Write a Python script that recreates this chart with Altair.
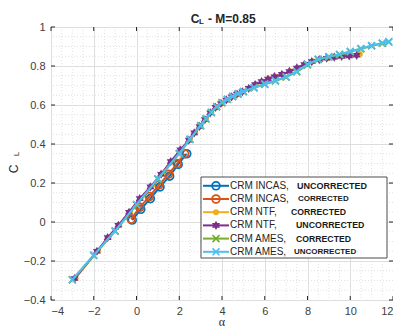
import altair as alt
import pandas as pd

# ---------------- data ----------------
incas_unc_alpha = [-0.2, 0.2, 0.65, 1.1, 1.55, 1.95, 2.35]
incas_unc_cl = [0.01, 0.065, 0.12, 0.18, 0.235, 0.295, 0.35]

incas_cor_alpha = [-0.25, 0.15, 0.6, 1.05, 1.5, 1.9, 2.25]
incas_cor_cl = [0.015, 0.075, 0.13, 0.19, 0.245, 0.3, 0.35]

ntf_cor_alpha = [-2.85, -1.8, -1.3, -0.8, -0.3, 0.2, 0.7, 1.2, 1.65, 2.1, 2.5, 2.75, 3.0, 3.25,
                 3.5, 3.75, 4.0, 4.25, 4.5, 4.75, 5.0, 5.3, 5.6, 5.9, 6.2, 6.5, 6.85, 7.2, 7.55,
                 7.9, 8.25, 8.6, 8.95, 9.3, 9.65, 10.0, 10.45]
ntf_cor_cl = [-0.288, -0.148, -0.078, -0.015, 0.052, 0.122, 0.182, 0.247, 0.312, 0.372, 0.422,
              0.459, 0.492, 0.527, 0.561, 0.589, 0.609, 0.627, 0.643, 0.657, 0.669, 0.686, 0.706,
              0.721, 0.734, 0.746, 0.758, 0.773, 0.791, 0.809, 0.824, 0.834, 0.841, 0.847, 0.852,
              0.856, 0.862]

ntf_unc_alpha = [-2.9, -1.85, -1.35, -0.85, -0.35, 0.15, 0.65, 1.15, 1.6, 2.05, 2.45, 2.7, 2.95,
                 3.2, 3.45, 3.7, 3.95, 4.2, 4.45, 4.7, 4.95, 5.25, 5.55, 5.85, 6.15, 6.45, 6.8,
                 7.15, 7.5, 7.85, 8.2, 8.55, 8.9, 9.25, 9.6, 9.95, 10.3]
ntf_unc_cl = [-0.29, -0.15, -0.08, -0.017, 0.05, 0.12, 0.18, 0.245, 0.31, 0.37, 0.42, 0.457,
              0.49, 0.525, 0.56, 0.588, 0.608, 0.626, 0.642, 0.656, 0.668, 0.685, 0.705, 0.72,
              0.733, 0.745, 0.757, 0.772, 0.79, 0.808, 0.823, 0.833, 0.84, 0.845, 0.849, 0.852,
              0.855]

ames_cor_alpha = [-3, -2, -1, 0, 1, 2, 2.5, 3, 3.25, 3.5, 3.75, 4, 4.25, 4.5, 4.75, 5, 5.5, 6,
                  6.5, 7, 7.5, 8, 8.5, 9, 9.5, 10, 10.5, 11, 11.5, 11.8]
ames_cor_cl = [-0.297, -0.172, -0.047, 0.088, 0.22, 0.35, 0.423, 0.493, 0.528, 0.561, 0.59,
               0.611, 0.628, 0.643, 0.656, 0.668, 0.688, 0.706, 0.723, 0.743, 0.77, 0.806,
               0.833, 0.846, 0.858, 0.873, 0.888, 0.903, 0.916, 0.923]

ames_unc_alpha = [-3, -2, -1, 0, 1, 2, 2.5, 3, 3.25, 3.5, 3.75, 4, 4.25, 4.5, 4.75, 5, 5.5, 6,
                  6.5, 7, 7.5, 8, 8.5, 9, 9.5, 10, 10.5, 11, 11.5, 11.8]
ames_unc_cl = [-0.295, -0.17, -0.045, 0.09, 0.222, 0.352, 0.425, 0.495, 0.53, 0.563, 0.592,
               0.613, 0.63, 0.645, 0.658, 0.67, 0.69, 0.708, 0.725, 0.745, 0.772, 0.808, 0.835,
               0.848, 0.86, 0.875, 0.89, 0.905, 0.918, 0.925]

legend_names = ["CRM INCAS,", "CRM INCAS,", "CRM NTF,", "CRM NTF,", "CRM AMES,", "CRM AMES,"]
legend_status = ["UNCORRECTED", "CORRECTED", "CORRECTED", "UNCORRECTED", "CORRECTED", "UNCORRECTED"]

x_ticks = [-4, -2, 0, 2, 4, 6, 8, 10, 12]
y_ticks = [-0.4, -0.2, 0, 0.2, 0.4, 0.6, 0.8, 1]
x_minor = [v / 2 for v in range(-8, 25) if v % 4 != 0]
y_minor = [v / 100 for v in range(-40, 101, 5) if v % 20 != 0]

# ---------------- styles ----------------
FONT = "Liberation Sans"
W, H = 342, 273
HEX = "M0,-1L0.866,0.5L-0.866,0.5Z M0,1L-0.866,-0.5L0.866,-0.5Z"
XMK = "M-1,-1L1,1M-1,1L1,-1"
series = [
    (incas_unc_alpha, incas_unc_cl, dict(color="#0072BD", shape="circle", filled=False, size=62)),
    (incas_cor_alpha, incas_cor_cl, dict(color="#D95319", shape="circle", filled=False, size=62)),
    (ntf_cor_alpha, ntf_cor_cl, dict(color="#EDB120", shape="circle", filled=True, size=36)),
    (ntf_unc_alpha, ntf_unc_cl, dict(color="#7E2F8E", shape=HEX, filled=True, size=85)),
    (ames_cor_alpha, ames_cor_cl, dict(color="#77AC30", shape=XMK, filled=False, size=48)),
    (ames_unc_alpha, ames_unc_cl, dict(color="#4DBEEE", shape=XMK, filled=False, size=48)),
]
status_font_px = [9, 8, 8.7, 8.8, 8.7, 8]
status_left_px = [246, 247, 240, 245, 245, 243]

xs = alt.Scale(domain=[-4, 12], nice=False, zero=False)
ys = alt.Scale(domain=[-0.4, 1], nice=False, zero=False)
x_axis = alt.Axis(values=x_ticks, grid=True, ticks=False, domain=False, title=None,
                  labelPadding=5)
y_axis = alt.Axis(values=y_ticks, grid=True, ticks=False, domain=False, title=None,
                  labelPadding=6, format="~g")


def X(field):
    return alt.X(field, type="quantitative", scale=xs, axis=x_axis)


def Y(field):
    return alt.Y(field, type="quantitative", scale=ys, axis=y_axis)


# ---------------- plot layers ----------------
layers = []
layers.append(alt.Chart(pd.DataFrame({"x": x_minor})).mark_rule(
    color="#d9d9d9", strokeDash=[1, 2], strokeWidth=0.8).encode(x=X("x")))
layers.append(alt.Chart(pd.DataFrame({"y": y_minor})).mark_rule(
    color="#d9d9d9", strokeDash=[1, 2], strokeWidth=0.8).encode(y=Y("y")))
# inward ticks (MATLAB style)
tx = alt.Chart(pd.DataFrame({"x": x_ticks}))
ty = alt.Chart(pd.DataFrame({"y": y_ticks}))
layers.append(tx.mark_rule(color="#262626").encode(x=X("x"), y=alt.value(H), y2=alt.value(H - 4)))
layers.append(tx.mark_rule(color="#262626").encode(x=X("x"), y=alt.value(0), y2=alt.value(4)))
layers.append(ty.mark_rule(color="#262626").encode(y=Y("y"), x=alt.value(0), x2=alt.value(4)))
layers.append(ty.mark_rule(color="#262626").encode(y=Y("y"), x=alt.value(W), x2=alt.value(W - 4)))

for a, c, st in series:
    df = pd.DataFrame({"x": a, "y": c})
    base = alt.Chart(df)
    layers.append(base.mark_line(color=st["color"], strokeWidth=2, clip=True).encode(x=X("x"), y=Y("y")))
    layers.append(base.mark_point(color=st["color"], shape=st["shape"], filled=st["filled"],
                                  size=st["size"], strokeWidth=1.7, opacity=1, clip=True)
                  .encode(x=X("x"), y=Y("y")))

# title, axis titles (C with subscript L, alpha)
one = alt.Chart(pd.DataFrame({"a": [0]}))
layers.append(one.mark_text(text="C", font=FONT, fontSize=12, fontWeight="bold", align="center",
                            color="#262626").encode(x=alt.value(144), y=alt.value(-8)))
layers.append(one.mark_text(text="L", font=FONT, fontSize=8, fontWeight="bold", align="left",
                            color="#262626").encode(x=alt.value(148), y=alt.value(-5)))
layers.append(one.mark_text(text="- M=0.85", font=FONT, fontSize=12, fontWeight="bold", align="left",
                            color="#262626").encode(x=alt.value(157), y=alt.value(-8)))
layers.append(one.mark_text(text="C", font=FONT, fontSize=12, angle=270, align="center",
                            baseline="middle", color="#262626").encode(x=alt.value(-37), y=alt.value(142)))
layers.append(one.mark_text(text="L", font=FONT, fontSize=8, angle=270, align="center",
                            baseline="middle", color="#262626").encode(x=alt.value(-34), y=alt.value(127)))
layers.append(one.mark_text(text="α", font="Liberation Serif", fontSize=12, align="center",
                            baseline="middle", color="#262626").encode(x=alt.value(W / 2), y=alt.value(H + 22)))

main = alt.layer(*layers)

# ---------------- legend ----------------
LX0, LX1, LY0, LY1 = 150, 336, 150, 231
ROW0, STEP = 158.8, 13.2
leg_df = pd.DataFrame({
    "name": legend_names,
    "status": legend_status,
    "row": list(range(len(legend_names))),
    "clr": [s[2]["color"] for s in series],
    "fs": status_font_px,
    "sx": status_left_px,
})
leg_df["py"] = ROW0 + leg_df["row"] * STEP
lb = alt.Chart(leg_df)
py = alt.Y("py:Q", scale=None, axis=None)
leg_layers = [
    one.mark_rect(fill="white", stroke="#4d4d4d", strokeWidth=1).encode(
        x=alt.value(LX0), x2=alt.value(LX1), y=alt.value(LY0), y2=alt.value(LY1)),
    lb.mark_rule(strokeWidth=2).encode(x=alt.value(152), x2=alt.value(178), y=py,
                                       color=alt.Color("clr:N", scale=None, legend=None)),
    lb.mark_text(align="left", baseline="middle", font=FONT, fontSize=10, color="#262626").encode(
        x=alt.value(179), y=py, text="name:N"),
    lb.mark_text(align="left", baseline="middle", font=FONT, fontWeight="bold", color="#1a1a1a").encode(
        x=alt.X("sx:Q", scale=None, axis=None), y=py, text="status:N",
        size=alt.Size("fs:Q", scale=None, legend=None)),
]
for i, (_, _, st) in enumerate(series):
    leg_layers.append(one.mark_point(color=st["color"], shape=st["shape"], filled=st["filled"],
                                     size=st["size"], strokeWidth=1.7, opacity=1)
                      .encode(x=alt.value(165), y=alt.value(ROW0 + i * STEP)))
legend = alt.layer(*leg_layers)

chart = alt.layer(main, legend).resolve_scale(
    x="independent", y="independent", color="independent", size="independent"
).properties(
    width=W, height=H,
    autosize=alt.AutoSizeParams(type="none"),
    padding={"left": 43, "top": 19, "right": 0, "bottom": 28},
    background="white",
).configure_view(stroke="#262626", strokeWidth=1).configure_axis(
    labelFont=FONT, labelFontSize=11, labelColor="#404040", gridColor="#dedede", gridWidth=1,
    titleFont=FONT,
)

chart.save("out.html", embed_options={"renderer": "svg", "actions": False})
